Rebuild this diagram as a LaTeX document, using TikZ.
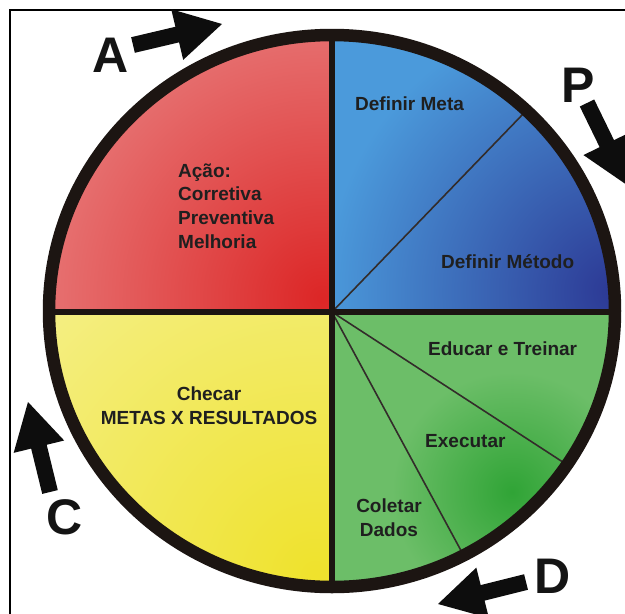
\documentclass[tikz,border=0pt]{standalone}
\usepackage{fontspec}
\setmainfont{Liberation Sans}
\usetikzlibrary{calc}
\definecolor{ringc}{HTML}{1C1512}
\definecolor{pinkc}{HTML}{EB9393}
\definecolor{redc}{HTML}{DC2626}
\definecolor{lblue}{HTML}{4B9ADB}
\definecolor{dblue}{HTML}{2C3894}
\definecolor{lyel}{HTML}{F5F192}
\definecolor{dyel}{HTML}{EFE22C}
\definecolor{lgreen}{HTML}{6CBE68}
\definecolor{dgreen}{HTML}{30A436}
\tikzset{
  lbl/.style={font=\fontsize{19}{23.6}\selectfont\bfseries, text=black!88, inner sep=0pt},
  bigletter/.style={font=\fontsize{50}{50}\selectfont\bfseries, text=black!92, inner sep=0pt},
  divider/.style={line width=6pt, draw=ringc},
  thinline/.style={line width=1.6pt, draw=ringc!90},
  ringline/.style={line width=12.5pt, draw=ringc},
  blockarrow/.style={fill=black!95},
}
\newcommand{\pdcaarrow}[1]{%
  \coordinate (#1-base) at ($(#1-tip)!46pt!(#1-tail)$);
  \fill[blockarrow] ($(#1-tail)!8pt!90:(#1-tip)$) -- ($(#1-base)!8pt!90:(#1-tip)$)
    -- ($(#1-base)!26pt!90:(#1-tip)$) -- (#1-tip) -- ($(#1-base)!26pt!-90:(#1-tip)$)
    -- ($(#1-base)!8pt!-90:(#1-tip)$) -- ($(#1-tail)!8pt!-90:(#1-tip)$) -- cycle;
}
\begin{document}
\begin{tikzpicture}[x=1pt,y=-1pt]
\useasboundingbox (0,0) rectangle (625,614);
\fill[white] (0,0) rectangle (625,614);
% frame
\draw[line width=1.5pt, black] (10,614) -- (10,10) -- (625,10);

\coordinate (O) at (332,312);
\coordinate (E) at (332,311);
\coordinate (bl) at (579,56);
\coordinate (g1) at (632,507);
\coordinate (g2) at (498,619);

\begin{scope}
  \clip (E) ellipse [x radius=283, y radius=276];
  % Act (red)
  \begin{scope}
    \clip (40,20) rectangle (332,312);
    \fill[pinkc] (40,20) rectangle (332,312);
    \shade[inner color=redc, outer color=pinkc] (322,298) circle (400);
  \end{scope}
  % Plan (blue)
  \begin{scope}
    \clip (332,20) rectangle (625,312);
    \fill[lblue] (332,20) rectangle (625,312);
    \shade[inner color=dblue, outer color=lblue] (615,292) circle (290);
  \end{scope}
  % Check (yellow)
  \begin{scope}
    \clip (40,312) rectangle (332,600);
    \fill[lyel] (40,312) rectangle (332,600);
    \shade[inner color=dyel, outer color=lyel] (315,575) circle (440);
  \end{scope}
  % Do (green)
  \begin{scope}
    \clip (332,312) rectangle (625,600);
    \fill[lgreen] (332,312) rectangle (625,600);
    \shade[inner color=dgreen, outer color=lgreen] (512,492) circle (120);
  \end{scope}
  \draw[thinline] (O) -- (bl);
  \draw[thinline] (O) -- (g1);
  \draw[thinline] (O) -- (g2);
  \draw[divider] (332,20) -- (332,600);
  \draw[divider] (40,312) -- (625,312);
\end{scope}
\draw[ringline] (E) ellipse [x radius=283, y radius=276];

% labels (base anchor of a multi-line node = baseline of its last line)
\node[lbl, anchor=base west, align=left] (acao) at (178,248) {Ação:\\Corretiva\\Preventiva\\Melhoria};
\node[lbl, anchor=base west] (meta) at (355,110) {Definir Meta};
\node[lbl, anchor=base west] (metodo) at (441,268) {Definir Método};
\node[lbl, anchor=base, align=center] (checar) at (209,424) {Checar\\METAS X RESULTADOS};
\node[lbl, anchor=base west] (educar) at (428,355) {Educar e Treinar};
\node[lbl, anchor=base west] (exec) at (425,447) {Executar};
\node[lbl, anchor=base, align=center] (coletar) at (389,536) {Coletar\\Dados};

% letters
\node[bigletter, anchor=base] (la) at (111,72) {A};
\node[bigletter, anchor=base] (lp) at (578,102) {P};
\node[bigletter, anchor=base] (lc) at (65,534) {C};
\node[bigletter, anchor=base] (ld) at (553,593) {D};

% arrows
\coordinate (aa-tail) at (133,45);
\coordinate (aa-tip) at (222,24);
\pdcaarrow{aa}
\coordinate (ap-tail) at (587,103);
\coordinate (ap-tip) at (627,185);
\pdcaarrow{ap}
\coordinate (ac-tail) at (50,492);
\coordinate (ac-tip) at (28,402);
\pdcaarrow{ac}
\coordinate (ad-tail) at (526,582);
\coordinate (ad-tip) at (438,604);
\pdcaarrow{ad}
\end{tikzpicture}
\end{document}
